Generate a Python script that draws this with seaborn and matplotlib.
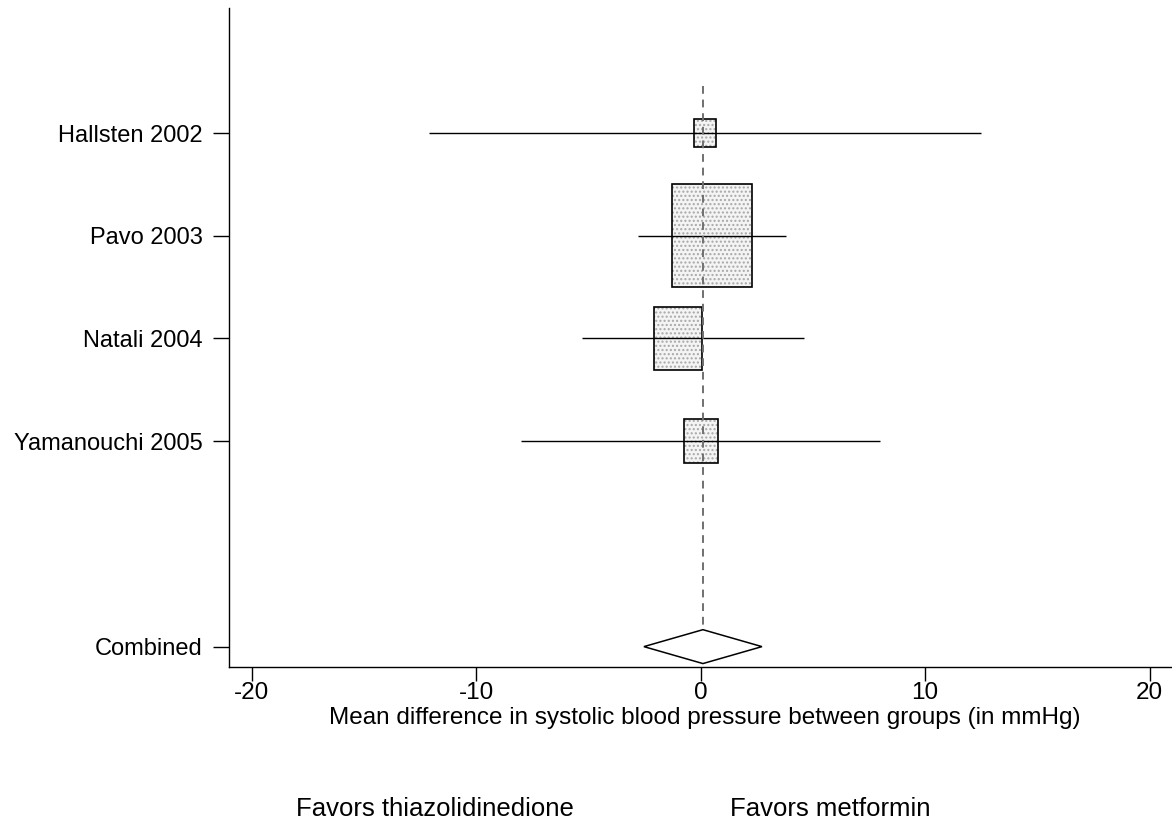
import matplotlib
matplotlib.use("Agg")
import matplotlib.pyplot as plt
from matplotlib.patches import Rectangle, Polygon
import seaborn as sns

# Study-level estimates: mean difference in SBP (mmHg) with 95% CI and weight (%)
studies = ["Hallsten 2002", "Pavo 2003", "Natali 2004", "Yamanouchi 2005"]
means = [0.2, 0.5, -1.0, 0.0]
ci_low = [-12.1, -2.8, -5.3, -8.0]
ci_high = [12.5, 3.8, 4.6, 8.0]
weights = [4.7, 61.6, 22.5, 11.1]

# Pooled estimate
pooled_label = "Combined"
pooled_mean = 0.1
pooled_low = -2.53
pooled_high = 2.73

xticks = [-20, -10, 0, 10, 20]
xlabel = "Mean difference in systolic blood pressure between groups (in mmHg)"
left_note = "Favors thiazolidinedione"
right_note = "Favors metformin"

sns.set_style("white")
plt.rcParams["font.family"] = ["Liberation Sans", "DejaVu Sans"]
plt.rcParams["text.color"] = "black"
plt.rcParams["axes.labelcolor"] = "black"
plt.rcParams["xtick.color"] = "black"
plt.rcParams["ytick.color"] = "black"

fig = plt.figure(figsize=(11.72, 8.23), dpi=100)
ax = fig.add_axes([0.1957, 0.1896, 0.8043, 0.8007])

ypos = list(range(1, len(studies) + 1))
pooled_y = len(studies) + 2

# box geometry derived from study weight
box_scale = 0.2252
box_aspect = 0.2846
for y, m, lo, hi, w in zip(ypos, means, ci_low, ci_high, weights):
    hw = box_scale * w ** 0.5
    hh = hw * box_aspect
    ax.add_patch(Rectangle((m - hw, y - hh), 2 * hw, 2 * hh,
                           facecolor="#f4f4f4", edgecolor="#a8a8a8", lw=0,
                           hatch="....", zorder=2))
    ax.add_patch(Rectangle((m - hw, y - hh), 2 * hw, 2 * hh,
                           fill=False, edgecolor="black", lw=1.2, zorder=3))
    ax.hlines(y, lo, hi, color="black", lw=1.0, zorder=4)

# pooled diamond
dh = 0.165
ax.add_patch(Polygon([(pooled_low, pooled_y), (pooled_mean, pooled_y - dh),
                      (pooled_high, pooled_y), (pooled_mean, pooled_y + dh)],
                     closed=True, facecolor="white", edgecolor="black",
                     lw=1.1, zorder=4))

# reference line at the pooled estimate
ax.vlines(pooled_mean, 0.54, pooled_y - dh, color="#707070", lw=1.4,
          linestyles=(0, (4, 3)), zorder=5)

ax.set_xlim(-21, 21)
ax.set_ylim(6.198, -0.218)
ax.set_xticks(xticks)
ax.set_xticklabels([str(t) for t in xticks])
ax.set_yticks(ypos + [pooled_y])
ax.set_yticklabels(studies + [pooled_label])

sns.despine(ax=ax, top=True, right=True)
for side in ("left", "bottom"):
    ax.spines[side].set_color("black")
    ax.spines[side].set_linewidth(1.0)

ax.tick_params(axis="x", direction="out", length=10, width=1.0,
               color="black", labelcolor="black", labelsize=17.5, pad=1,
               bottom=True)
ax.tick_params(axis="y", direction="out", length=11.5, width=1.0,
               color="black", labelcolor="black", labelsize=17, pad=7.5,
               left=True)

ax.set_xlabel(xlabel, fontsize=17.5, color="black")
ax.xaxis.set_label_coords(0.504, -0.061, transform=ax.transAxes)
ax.xaxis.label.set_va("top")

fig.text(296 / 1172, 1 - 816 / 823, left_note, fontsize=18.5,
         ha="left", va="baseline", color="black")
fig.text(930 / 1172, 1 - 816 / 823, right_note, fontsize=18.5,
         ha="right", va="baseline", color="black")

fig.savefig("out.png", dpi=100)
